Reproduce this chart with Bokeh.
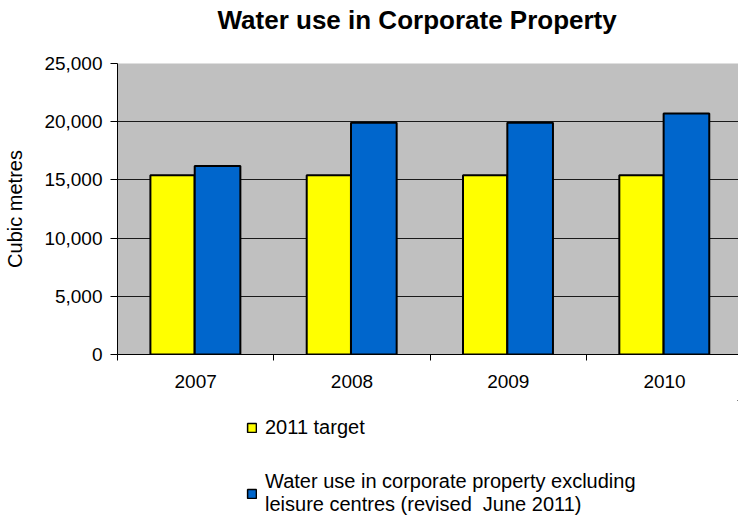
from bokeh.plotting import figure
from bokeh.layouts import column
from bokeh.models import (ColumnDataSource, FixedTicker, NumeralTickFormatter,
                          Legend, LegendItem, Range1d, Title)
from bokeh.transform import dodge
from bokeh.embed import file_html
from bokeh.resources import INLINE

# ---- data ----
years = ["2007", "2008", "2009", "2010"]
target = [15400, 15400, 15400, 15400]
usage = [16200, 19900, 19900, 20700]
y_ticks = [0, 5000, 10000, 15000, 20000, 25000]
series_names = ["2011 target",
                "Water use in corporate property excluding\nleisure centres (revised  June 2011)"]
series_colors = ["#FFFF00", "#0066CC"]
title_text = "Water use in Corporate Property"
y_label = "Cubic metres"

FONT = "Liberation Sans"

pos = [i + 0.5 for i in range(len(years))]
bounds = [float(i) for i in range(len(years) + 1)]
source = ColumnDataSource(dict(x=pos, target=target, usage=usage))

p = figure(width=738, height=400, output_backend="svg", toolbar_location=None,
           title=None,
           x_range=Range1d(0, 3.973), y_range=Range1d(0, 25000),
           min_border_left=117, min_border_right=0, min_border_top=63,
           min_border_bottom=46,
           background_fill_color="#C0C0C0", border_fill_color="white",
           outline_line_color=None)

# spacer between frame and title, then the title itself
p.add_layout(Title(text=" ", text_font=FONT, text_font_size="24px", standoff=0), "above")
p.add_layout(Title(text=title_text, align="left", offset=100, standoff=0,
                   text_font=FONT, text_font_size="26px", text_font_style="bold",
                   text_color="black"), "above")

p.vbar(x=dodge("x", -0.148, range=p.x_range), top="target", width=0.283,
       source=source, fill_color=series_colors[0], line_color="black", line_width=2)
p.vbar(x=dodge("x", 0.140, range=p.x_range), top="usage", width=0.292,
       source=source, fill_color=series_colors[1], line_color="black", line_width=2)

# grid
p.xgrid.visible = False
p.ygrid.ticker = FixedTicker(ticks=y_ticks)
p.ygrid.grid_line_color = "#1a1a1a"
p.ygrid.grid_line_width = 1

# y axis
p.yaxis.ticker = FixedTicker(ticks=y_ticks)
p.yaxis.formatter = NumeralTickFormatter(format="0,0")
p.yaxis.major_tick_out = 7
p.yaxis.major_tick_in = 0
p.yaxis.minor_tick_out = 0
p.yaxis.minor_tick_in = 0
p.yaxis.major_label_standoff = 8
p.yaxis.major_label_text_font = FONT
p.yaxis.major_label_text_font_size = "19px"
p.yaxis.major_label_text_color = "black"
p.yaxis.axis_label = y_label
p.yaxis.axis_label_text_font = FONT
p.yaxis.axis_label_text_font_size = "20px"
p.yaxis.axis_label_text_font_style = "normal"
p.yaxis.axis_label_text_color = "black"
p.yaxis.axis_label_standoff = 15
p.yaxis.axis_line_color = "black"
p.yaxis.major_tick_line_color = "black"

# x axis
p.xaxis.ticker = FixedTicker(ticks=pos, minor_ticks=bounds)
p.xaxis.major_label_overrides = {x: y for x, y in zip(pos, years)}
p.xaxis.major_tick_out = 0
p.xaxis.major_tick_in = 0
p.xaxis.minor_tick_out = 6
p.xaxis.minor_tick_in = 0
p.xaxis.minor_tick_line_color = "black"
p.xaxis.major_label_standoff = 14
p.xaxis.major_label_text_font = FONT
p.xaxis.major_label_text_font_size = "19px"
p.xaxis.major_label_text_color = "black"
p.xaxis.axis_line_color = "black"

# ---- legend strip under the chart (its frame is aligned with the chart's) ----
lf = figure(width=738, height=118, output_backend="svg", toolbar_location=None,
            title=None, x_range=Range1d(-10, -9), y_range=Range1d(-2, -1),
            min_border=0, outline_line_color=None, background_fill_color="white")
lf.axis.visible = False
lf.grid.visible = False

# legend-only renderers: same series, drawn outside this strip's ranges
items = []
for name, col, key in zip(series_names, series_colors, ["target", "usage"]):
    rr = lf.vbar(x="x", top=key, width=0.29, source=source, fill_color=col,
                 line_color="black", line_width=1.5)
    items.append(LegendItem(label=name, renderers=[rr]))

legend = Legend(items=items, location=(129, 2), orientation="vertical",
                padding=0, margin=0, spacing=31, glyph_width=11, glyph_height=11,
                label_standoff=8, label_text_font=FONT, label_text_font_size="20px",
                label_text_line_height=1.25,
                label_text_color="black", border_line_color=None,
                background_fill_alpha=0)
lf.add_layout(legend)

open("out.html", "w").write(file_html(column(p, lf, spacing=0), INLINE))
